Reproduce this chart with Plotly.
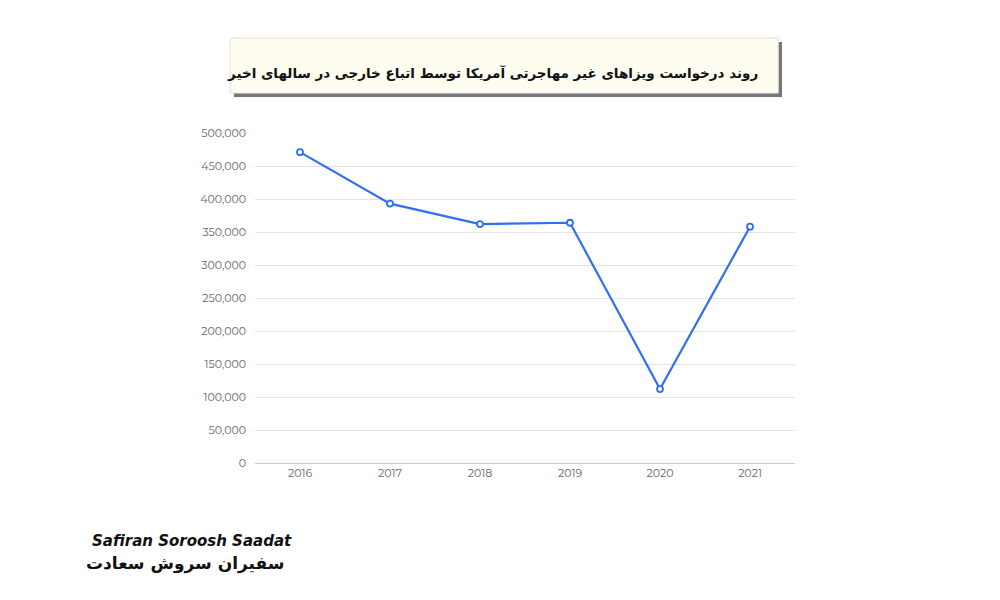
import plotly.graph_objects as go

# داده‌ها
years = ["2016", "2017", "2018", "2019", "2020", "2021"]
visas = [471000, 393000, 362000, 364000, 112000, 358000]
tick_vals = list(range(0, 500001, 50000))
tick_text = [f"{v:,}" for v in tick_vals]

title = "روند درخواست ویزاهای غیر مهاجرتی آمریکا توسط اتباع خارجی در سالهای اخیر"

fig = go.Figure()
fig.add_trace(go.Scatter(
    x=years, y=visas, mode="lines+markers",
    line=dict(color="#2f6ff0", width=2.2),
    marker=dict(size=6, color="white", line=dict(color="#2f6ff0", width=1.8)),
    hoverinfo="x+y",
))

# title box: shadow + cream box
fig.add_shape(type="rect", xref="paper", yref="paper", x0=-0.039, x1=0.976, y0=1.109, y1=1.276,
              fillcolor="#777777", line=dict(width=0), layer="below")
fig.add_shape(type="rect", xref="paper", yref="paper", x0=-0.046, x1=0.969, y0=1.121, y1=1.288,
              fillcolor="#fefdf0", line=dict(color="#e0e0e0", width=1), layer="below")
fig.add_annotation(text="<b>" + title + "</b>", xref="paper", yref="paper", x=0.935, y=1.212, xanchor="right",
                   showarrow=False, font=dict(family="DejaVu Sans", size=13.5, color="#111111"))

# logo text
fig.add_annotation(text="<b><i>Safiran Soroosh Saadat</i></b>", xref="paper", yref="paper",
                   x=-0.306, y=-0.27, xanchor="left", showarrow=False,
                   font=dict(family="DejaVu Sans", size=15, color="#111111"))
fig.add_annotation(text="<b>سفیران سروش سعادت</b>", xref="paper", yref="paper",
                   x=-0.13, y=-0.342, xanchor="center", showarrow=False,
                   font=dict(family="DejaVu Sans", size=17, color="#111111"))

fig.update_layout(
    width=1000, height=600, plot_bgcolor="white", paper_bgcolor="white",
    margin=dict(l=247, r=213, t=125, b=145),
    showlegend=False,
    font=dict(family="Montserrat, DejaVu Sans", size=11, color="#666666"),
)
fig.update_xaxes(showgrid=False, showline=True, linecolor="#cccccc", ticks="", range=[-0.5, 5.5])
fig.update_yaxes(range=[0, 500000], tickvals=tick_vals, ticktext=tick_text,
                 gridcolor="#e3e3e3", zeroline=False, ticks="", ticklabelstandoff=8)

fig.write_html("out.html")
